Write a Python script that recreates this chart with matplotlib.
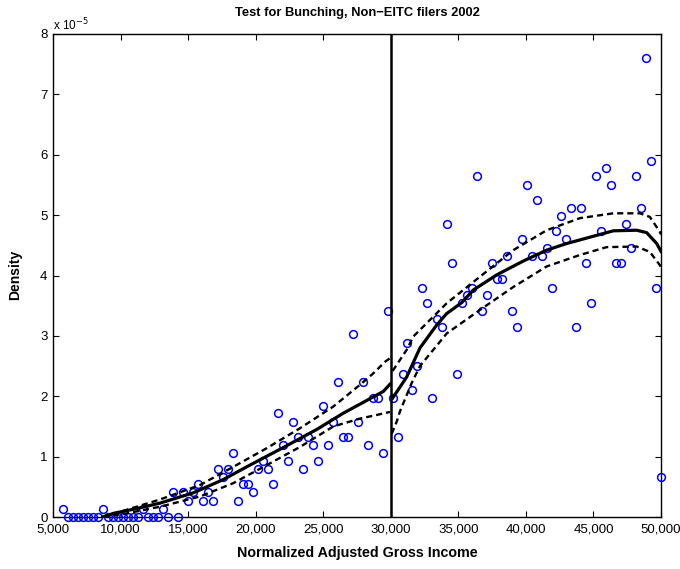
import numpy as np
import matplotlib
matplotlib.use("Agg")
import matplotlib.pyplot as plt
from matplotlib.ticker import FuncFormatter

plt.rcParams['font.family'] = ['Liberation Sans', 'DejaVu Sans']

# binned densities (units of 1e-5), left and right of the 30,000 cutoff
inc_left = [5760, 6130, 6500, 6870, 7240, 7610, 7980, 8350, 8720, 9090,
            9460, 9830, 10200, 10570, 10940, 11310, 11680, 12050, 12420, 12790,
            13160, 13530, 13900, 14270, 14640, 15010, 15380, 15750, 16120, 16490,
            16860, 17230, 17600, 17970, 18340, 18710, 19080, 19450, 19820, 20190,
            20560, 20930, 21300, 21670, 22040, 22410, 22780, 23150, 23520, 23890,
            24260, 24630, 25000, 25370, 25740, 26110, 26480, 26850, 27220, 27590,
            27960, 28330, 28700, 29070, 29440, 29810]
dens_left = [0.14, 0, 0, 0, 0, 0, 0, 0, 0.14, 0,
             0, 0, 0, 0, 0, 0, 0.14, 0, 0, 0,
             0.14, 0, 0.41, 0, 0.41, 0.27, 0.41, 0.55, 0.27, 0.41,
             0.27, 0.80, 0.67, 0.80, 1.06, 0.27, 0.55, 0.55, 0.41, 0.80,
             0.93, 0.80, 0.55, 1.72, 1.20, 0.93, 1.58, 1.32, 0.80, 1.32,
             1.20, 0.93, 1.84, 1.20, 1.58, 2.24, 1.32, 1.32, 3.03, 1.58,
             2.24, 1.20, 1.97, 1.97, 1.06, 3.42]

inc_right = [30130, 30500, 30870, 31230, 31600, 31970, 32340, 32700, 33070, 33440,
             33810, 34170, 34540, 34910, 35280, 35650, 36010, 36380, 36750, 37120,
             37480, 37850, 38220, 38590, 38950, 39320, 39690, 40060, 40420, 40790,
             41160, 41530, 41900, 42260, 42630, 43000, 43370, 43730, 44100, 44470,
             44840, 45200, 45570, 45940, 46310, 46670, 47040, 47410, 47780, 48140,
             48510, 48880, 49250, 49620, 50000]
dens_right = [1.97, 1.32, 2.37, 2.89, 2.10, 2.50, 3.80, 3.55, 1.97, 3.28,
              3.15, 4.85, 4.20, 2.37, 3.55, 3.68, 3.80, 5.64, 3.42, 3.68,
              4.20, 3.94, 3.94, 4.32, 3.42, 3.15, 4.60, 5.50, 4.32, 5.25,
              4.32, 4.46, 3.80, 4.73, 4.99, 4.60, 5.12, 3.15, 5.12, 4.20,
              3.55, 5.64, 4.73, 5.78, 5.50, 4.20, 4.20, 4.85, 4.46, 5.64,
              5.12, 7.60, 5.90, 3.80, 0.66]

# smoothed fit and confidence bands
fit_lx = [8700, 9460, 11200, 12920, 15380, 17600, 19580, 22040, 24520, 26490, 27970, 29450, 29940]
fit_ly = [0.0, 0.06, 0.14, 0.23, 0.40, 0.62, 0.86, 1.15, 1.45, 1.72, 1.90, 2.08, 2.20]
up_lx = [8700, 10460, 12920, 15880, 18340, 20820, 23280, 25750, 27720, 28710, 29570, 29940]
up_ly = [0.0, 0.12, 0.29, 0.53, 0.83, 1.14, 1.47, 1.83, 2.19, 2.38, 2.57, 2.63]
lo_lx = [8700, 10460, 12920, 15880, 18340, 20820, 23280, 25750, 27720, 28960, 29940]
lo_ly = [0.0, 0.06, 0.17, 0.34, 0.56, 0.86, 1.16, 1.50, 1.63, 1.69, 1.74]

fit_rx = [30140, 31180, 32160, 33400, 34140, 35250, 36110, 37840, 39810, 41540, 43020, 44990, 46470, 48200, 48940, 49680, 50000]
fit_ry = [1.97, 2.32, 2.80, 3.18, 3.37, 3.55, 3.76, 4.01, 4.24, 4.42, 4.53, 4.65, 4.74, 4.75, 4.71, 4.53, 4.40]
up_rx = [30140, 31180, 31670, 34140, 36600, 39070, 41540, 44000, 46470, 48440, 49180, 49920, 50000]
up_ry = [2.42, 2.77, 2.99, 3.54, 3.98, 4.42, 4.75, 4.95, 5.03, 5.03, 4.97, 4.72, 4.68]
lo_rx = [30070, 30440, 30680, 31530, 32160, 34140, 36600, 39070, 41540, 44000, 45980, 48200, 49180, 49920, 50000]
lo_ry = [1.38, 1.58, 1.75, 2.21, 2.50, 3.04, 3.43, 3.81, 4.15, 4.34, 4.47, 4.48, 4.39, 4.17, 4.12]

cutoff = 30000

fig = plt.figure(figsize=(6.8, 5.69), dpi=100)
ax = fig.add_axes([53/680, 52/569, 608/680, 483/569])

ax.plot(inc_left, dens_left, 'o', mfc='none', mec=(0, 0, 1), ms=5.6, mew=1.1, clip_on=False, zorder=3)
ax.plot(inc_right, dens_right, 'o', mfc='none', mec=(0, 0, 1), ms=5.6, mew=1.1, clip_on=False, zorder=3)

ax.plot(fit_lx, fit_ly, 'k-', lw=2.3, zorder=4)
ax.plot(fit_rx, fit_ry, 'k-', lw=2.3, zorder=4)
for xx, yy in [(up_lx, up_ly), (lo_lx, lo_ly), (up_rx, up_ry), (lo_rx, lo_ry)]:
    ax.plot(xx, yy, color='k', lw=1.7, dashes=(2.6, 1.7), zorder=4)

ax.axvline(cutoff, color='k', lw=1.8, zorder=5)

ax.set_xlim(5000, 50000)
ax.set_ylim(0, 8)
ax.set_xticks(range(5000, 50001, 5000))
ax.set_yticks(range(0, 9))
ax.xaxis.set_major_formatter(FuncFormatter(lambda v, p: f"{int(v):,}"))
ax.tick_params(direction='in', length=4, width=0.8, top=True, right=True, labelsize=9.5)
ax.tick_params(axis='x', pad=5)
ax.tick_params(axis='y', pad=4)
for s in ax.spines.values():
    s.set_linewidth(1.0)

fig.text(357/680, 1 - 13/569, "Test for Bunching, Non\u2212EITC filers 2002", ha='center', va='center',
         fontsize=9.3, fontweight='bold')
fig.text(357/680, 1 - 553/569, "Normalized Adjusted Gross Income", ha='center', va='center',
         fontsize=10.3, fontweight='bold')
fig.text(15/680, 1 - 275/569, "Density", ha='center', va='center', rotation=90,
         fontsize=10, fontweight='bold')
fig.text(53/680, 1 - 30/569, r"x 10$^{-5}$", ha='left', va='baseline', fontsize=8.5)

fig.savefig("out.png", dpi=100)
